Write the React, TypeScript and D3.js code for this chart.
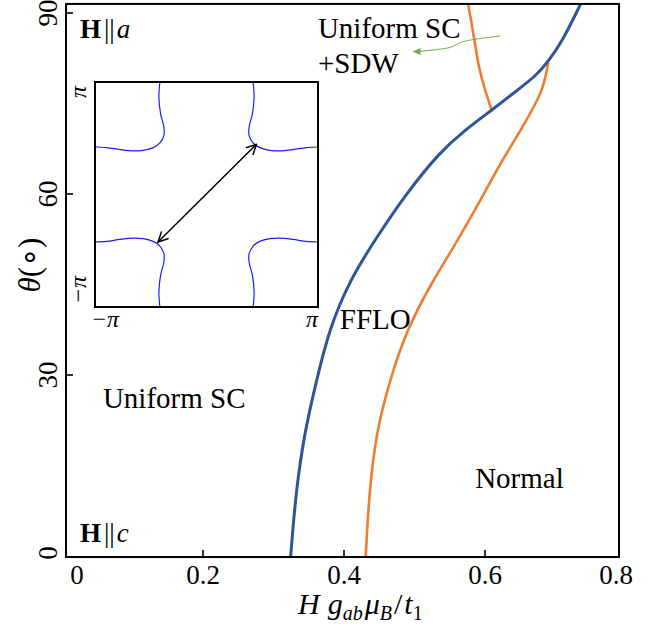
import React from "react";
import * as d3 from "d3";

// ---- axis ticks ----
const X_TICKS = [0, 0.2, 0.4, 0.6, 0.8];
const X_TICK_LABELS = ["0", "0.2", "0.4", "0.6", "0.8"];
const Y_TICKS = [0, 30, 60, 90];
const Y_TICK_LABELS = ["0", "30", "60", "90"];
// plotted frame extent (data units)
const FRAME_H = [0.0057, 0.7901];
const FRAME_THETA = [-0.17, 91.5];

// ---- blue: Uniform SC / FFLO boundary ----
const BLUE_H = [0.3244, 0.3244, 0.3319, 0.3447, 0.3613, 0.3787, 0.4085, 0.444, 0.4865, 0.5362, 0.5716, 0.6095, 0.6426, 0.6733, 0.6894, 0.7106, 0.7348, 0.7348];
const BLUE_THETA = [0, 0, 10.9, 20.9, 29.2, 37.5, 45.8, 52.4, 59.8, 67.0, 70.6, 73.9, 76.9, 79.7, 81.9, 85.5, 91.3, 91.3];

// ---- orange: FFLO / Normal boundary ----
const ORANGE_LOW_H = [0.4308, 0.4308, 0.4359, 0.4464, 0.4652, 0.4889, 0.5262, 0.5532, 0.5901, 0.6241, 0.6511, 0.6709, 0.6809, 0.6865, 0.6894, 0.6894];
const ORANGE_LOW_THETA = [0, 0, 10.9, 20.9, 29.2, 37.5, 45.7, 50.7, 58.2, 65.6, 70.6, 74.8, 77.2, 79.7, 81.6, 81.6];
// ---- orange: Uniform SC / Uniform SC+SDW boundary ----
const ORANGE_UP_H = [0.6095, 0.6095, 0.6, 0.5922, 0.5872, 0.5816, 0.5763, 0.5763];
const ORANGE_UP_THETA = [73.9, 73.9, 77.2, 80.5, 83.8, 88.0, 91.3, 91.3];

// ---- green annotation arrow ----
const GREEN_H = [0.6213, 0.5811, 0.5621, 0.555, 0.5362, 0.5078, 0.4983];
const GREEN_THETA = [86.2, 85.6, 85.1, 84.3, 84.0, 83.6, 83.6];

// ---- inset: Fermi surface, one corner piece (units of π), mirrored to the others ----
const FS_KX = [-0.418, -0.427, -0.412, -0.382, -0.382, -0.418, -0.478, -0.567, -0.657, -0.776, -0.895, -1.0];
const FS_KY = [1.0, 0.867, 0.719, 0.6, 0.526, 0.458, 0.417, 0.393, 0.387, 0.399, 0.417, 0.422];
const NESTING_FROM = [-0.435, -0.422];
const NESTING_TO = [0.448, 0.446];
const INSET_TICK_LABELS = ["\u2212\u03c0", "\u03c0"];

const FONT = "'Liberation Serif', 'Times New Roman', serif";
const BLUE = "#2f5597";
const ORANGE = "#ed7d31";
const GREEN = "#70ad47";

const zip = (a: number[], b: number[]) => a.map((v, i) => [v, b[i]] as [number, number]);

export default function App() {
  const W = 665, H = 627;
  const x = d3.scaleLinear().domain([0, 0.8]).range([62, 626]);
  const y = d3.scaleLinear().domain([0, 90]).range([556, 13]);
  const fx0 = x(FRAME_H[0]), fx1 = x(FRAME_H[1]);
  const fy0 = y(FRAME_THETA[1]), fy1 = y(FRAME_THETA[0]);

  const line = d3
    .line<[number, number]>()
    .x((d) => x(d[0]))
    .y((d) => y(d[1]))
    .curve(d3.curveBasis);

  // inset
  const ix = d3.scaleLinear().domain([-1, 1]).range([95, 318]);
  const iy = d3.scaleLinear().domain([-1, 1]).range([307, 82]);
  const iline = d3
    .line<[number, number]>()
    .x((d) => ix(d[0]))
    .y((d) => iy(d[1]))
    .curve(d3.curveCatmullRom.alpha(0.5));
  const pieces = [
    [1, 1],
    [-1, 1],
    [1, -1],
    [-1, -1],
  ].map(([sx, sy]) => FS_KX.map((k, i) => [sx * k, sy * FS_KY[i]] as [number, number]));

  const innerX = X_TICKS.filter((v) => x(v) > fx0 + 2 && x(v) < fx1 - 2);
  const innerY = Y_TICKS.filter((v) => y(v) > fy0 + 2 && y(v) < fy1 - 2);
  const clampX = (p: number) => Math.min(Math.max(p, fx0 + 11), fx1 - 3);
  const clampY = (p: number) => Math.min(Math.max(p, fy0 + 9), fy1 - 4);

  return (
    <svg
      width={W}
      height={H}
      viewBox={`0 0 ${W} ${H}`}
      style={{ position: "absolute", left: 0, top: 0, background: "#fff" }}
      fontFamily={FONT}
    >
      <defs>
        <clipPath id="frameClip">
          <rect x={fx0} y={fy0} width={fx1 - fx0} height={fy1 - fy0} />
        </clipPath>
        <marker
          id="openHead"
          viewBox="0 0 12 12"
          refX="11"
          refY="6"
          markerWidth="12"
          markerHeight="12"
          markerUnits="userSpaceOnUse"
          orient="auto-start-reverse"
        >
          <path d="M1,1 L11,6 L1,11" fill="none" stroke="#000" strokeWidth={1.5} />
        </marker>
        <marker
          id="greenHead"
          viewBox="0 0 10 10"
          refX="9"
          refY="5"
          markerWidth="8"
          markerHeight="7"
          markerUnits="userSpaceOnUse"
          orient="auto"
          preserveAspectRatio="none"
        >
          <path d="M0,0 L10,5 L0,10 Z" fill={GREEN} />
        </marker>
      </defs>

      {/* curves */}
      <g clipPath="url(#frameClip)" fill="none" strokeLinejoin="round" strokeLinecap="round">
        <path d={line(zip(ORANGE_LOW_H, ORANGE_LOW_THETA)) || ""} stroke={ORANGE} strokeWidth={2.6} />
        <path d={line(zip(ORANGE_UP_H, ORANGE_UP_THETA)) || ""} stroke={ORANGE} strokeWidth={2.6} />
        <path d={line(zip(BLUE_H, BLUE_THETA)) || ""} stroke={BLUE} strokeWidth={3} />
        <path
          d={line(zip(GREEN_H, GREEN_THETA)) || ""}
          stroke={GREEN}
          strokeWidth={1}
          markerEnd="url(#greenHead)"
        />
      </g>

      {/* frame */}
      <rect x={fx0} y={fy0} width={fx1 - fx0} height={fy1 - fy0} fill="none" stroke="#000" strokeWidth={2} />
      {innerX.map((v) => (
        <line key={"xt" + v} x1={x(v)} x2={x(v)} y1={fy1} y2={fy1 - 7} stroke="#000" strokeWidth={1.6} />
      ))}
      {innerY.map((v) => (
        <line key={"yt" + v} x1={fx0} x2={fx0 + 7} y1={y(v)} y2={y(v)} stroke="#000" strokeWidth={1.6} />
      ))}

      {/* tick labels */}
      {X_TICKS.map((v, i) => (
        <text key={"xl" + v} x={clampX(x(v))} y={584} fontSize={27} textAnchor="middle">
          {X_TICK_LABELS[i]}
        </text>
      ))}
      {Y_TICKS.map((v, i) => (
        <text
          key={"yl" + v}
          transform={`translate(57,${clampY(y(v))}) rotate(-90)`}
          fontSize={27}
          textAnchor="middle"
        >
          {Y_TICK_LABELS[i]}
        </text>
      ))}

      {/* axis titles */}
      <text x={298} y={614} fontSize={30} fontStyle="italic">
        <tspan>H</tspan>
        <tspan dx={8}>g</tspan>
        <tspan dy={6} fontSize={20}>ab</tspan>
        <tspan dy={-6} dx={2}>μ</tspan>
        <tspan dy={6} fontSize={20}>B</tspan>
        <tspan dy={-6} dx={2} fontStyle="normal">/</tspan>
        <tspan dx={2}>t</tspan>
        <tspan dy={6} fontSize={20} fontStyle="normal">1</tspan>
      </text>
      <text transform="translate(40,265) rotate(-90)" fontSize={31} textAnchor="middle">
        <tspan fontStyle="italic">θ</tspan>
        <tspan>(∘)</tspan>
      </text>

      {/* region labels */}
      <text x={x(0.0254)} y={38} fontSize={27}>
        <tspan fontWeight="bold">H</tspan>
        <tspan dx={3}>||</tspan>
        <tspan dx={2} fontStyle="italic">a</tspan>
      </text>
      <text x={x(0.0254)} y={542} fontSize={27}>
        <tspan fontWeight="bold">H</tspan>
        <tspan dx={3}>||</tspan>
        <tspan dx={2} fontStyle="italic">c</tspan>
      </text>
      <text x={x(0.363)} y={y(85.9)} fontSize={29}>Uniform SC</text>
      <text x={x(0.363)} y={y(80)} fontSize={29}>+SDW</text>
      <text x={x(0.058)} y={y(24.5)} fontSize={29}>Uniform SC</text>
      <text x={x(0.394)} y={y(37.6)} fontSize={29}>FFLO</text>
      <text x={x(0.586)} y={y(11.2)} fontSize={29}>Normal</text>

      {/* inset */}
      <rect x={ix(-1)} y={iy(1)} width={ix(1) - ix(-1)} height={iy(-1) - iy(1)} fill="#fff" stroke="none" />
      {pieces.map((p, i) => (
        <path key={"fs" + i} d={iline(p) || ""} fill="none" stroke="#1a1aff" strokeWidth={1.2} />
      ))}
      <line
        x1={ix(NESTING_FROM[0])}
        y1={iy(NESTING_FROM[1])}
        x2={ix(NESTING_TO[0])}
        y2={iy(NESTING_TO[1])}
        stroke="#000"
        strokeWidth={1.5}
        markerStart="url(#openHead)"
        markerEnd="url(#openHead)"
      />
      <rect x={ix(-1)} y={iy(1)} width={ix(1) - ix(-1)} height={iy(-1) - iy(1)} fill="none" stroke="#000" strokeWidth={2} />
      <text x={ix(-1) + 10} y={327} fontSize={24} textAnchor="middle" fontStyle="italic">
        {INSET_TICK_LABELS[0]}
      </text>
      <text x={ix(1) - 6} y={327} fontSize={24} textAnchor="middle" fontStyle="italic">
        {INSET_TICK_LABELS[1]}
      </text>
      <text transform={`translate(86,${iy(1) + 10}) rotate(-90)`} fontSize={24} textAnchor="middle" fontStyle="italic">
        {INSET_TICK_LABELS[1]}
      </text>
      <text transform={`translate(86,${iy(-1) - 17}) rotate(-90)`} fontSize={24} textAnchor="middle" fontStyle="italic">
        {INSET_TICK_LABELS[0]}
      </text>
    </svg>
  );
}
